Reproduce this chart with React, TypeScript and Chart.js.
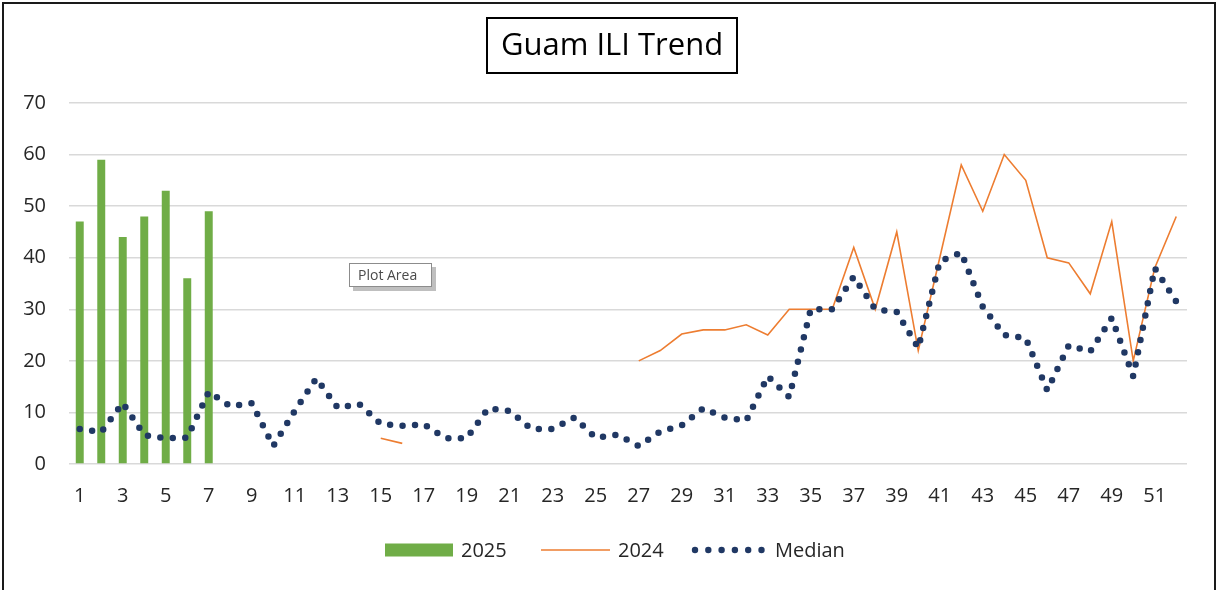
import React, { useEffect, useRef } from "react";
import { Chart, registerables } from "chart.js";

Chart.register(...registerables);

const weeks: string[] = [
  "1", "2", "3", "4", "5", "6", "7", "8", "9", "10", "11", "12", "13",
  "14", "15", "16", "17", "18", "19", "20", "21", "22", "23", "24", "25", "26",
  "27", "28", "29", "30", "31", "32", "33", "34", "35", "36", "37", "38", "39",
  "40", "41", "42", "43", "44", "45", "46", "47", "48", "49", "50", "51", "52",
];

const cases2025: (number | null)[] = [47, 59, 44, 48, 53, 36, 49];

const cases2024: (number | null)[] = [
  null, null, null, null, null, null, null, null, null, null, null, null, null,
  null, 5, 4, null, null, null, null, null, null, null, null, null, null,
  20, 22, 25.2, 26, 26, 27, 25, 30, 30, 30, 42, 30, 45,
  22, 40, 58, 49, 60, 55, 40, 39, 33, 47, 20, 38, 48,
];

const median: number[] = [
  6.8, 6.2, 11.8, 5.6, 5.0, 5.1, 14, 11.2, 11.8, 3.5, 10.3, 16.6, 10.9,
  11.6, 7.8, 7.4, 7.7, 5.0, 5.0, 10.8, 10.3, 6.8, 6.8, 9.0, 5.1, 5.7,
  3.5, 6.3, 7.5, 10.8, 9.0, 8.4, 17, 13, 30, 30, 36.3, 30, 29.5,
  22.5, 39.3, 41, 30.5, 25, 24.4, 14.3, 23, 21.8, 28.3, 17, 38, 31.5,
];

const yTicks: number[] = [0, 10, 20, 30, 40, 50, 60, 70];

const chartTitle = "Guam ILI Trend";
const legendLabels = ["2025", "2024", "Median"];
const hoverNote = "Plot Area";

const GREEN = "#70AD47";
const ORANGE = "#ED7D31";
const NAVY = "#203864";
const FONT = "'Open Sans', 'DejaVu Sans', sans-serif";

const decorPlugin = {
  id: "decor",
  beforeDraw(chart: any) {
    const ctx = chart.ctx;
    ctx.save();
    ctx.fillStyle = "#ffffff";
    ctx.fillRect(0, 0, chart.width, chart.height);
    ctx.restore();
  },
  afterDraw(chart: any) {
    const ctx = chart.ctx;
    ctx.save();
    // outer border
    ctx.strokeStyle = "#1a1a1a";
    ctx.lineWidth = 2;
    ctx.beginPath();
    ctx.moveTo(3, 700);
    ctx.lineTo(3, 3);
    ctx.lineTo(1215, 3);
    ctx.lineTo(1215, 700);
    ctx.stroke();

    // title box
    ctx.lineWidth = 2;
    ctx.strokeStyle = "#000";
    ctx.strokeRect(487, 18, 250, 55);
    ctx.fillStyle = "#000";
    ctx.font = `31px ${FONT}`;
    ctx.textAlign = "center";
    ctx.textBaseline = "middle";
    ctx.fillText(chartTitle, 612, 46);

    // legend
    const ly = 550;
    ctx.fillStyle = GREEN;
    ctx.fillRect(385, ly - 6.5, 68, 13);
    ctx.strokeStyle = ORANGE;
    ctx.lineWidth = 1.5;
    ctx.beginPath();
    ctx.moveTo(541, ly);
    ctx.lineTo(610, ly);
    ctx.stroke();
    ctx.fillStyle = NAVY;
    for (let i = 0; i < 6; i++) {
      ctx.beginPath();
      ctx.arc(695 + i * 13.3, ly, 3.2, 0, Math.PI * 2);
      ctx.fill();
    }
    ctx.fillStyle = "#262626";
    ctx.font = `20px ${FONT}`;
    ctx.textAlign = "left";
    ctx.textBaseline = "middle";
    ctx.fillText(legendLabels[0], 461, ly + 1);
    ctx.fillText(legendLabels[1], 618, ly + 1);
    ctx.fillText(legendLabels[2], 775, ly + 1);

    // "Plot Area" hover box
    ctx.fillStyle = "#bfbfbf";
    ctx.fillRect(353, 267, 83, 24);
    ctx.fillStyle = "#ffffff";
    ctx.fillRect(349, 263, 83, 24);
    ctx.strokeStyle = "#8c8c8c";
    ctx.lineWidth = 1;
    ctx.strokeRect(349.5, 263.5, 82, 23);
    ctx.fillStyle = "#4a4a4a";
    ctx.font = `14px ${FONT}`;
    ctx.textAlign = "left";
    ctx.fillText(hoverNote, 358, 276);
    ctx.restore();
  },
};

export default function App() {
  const ref = useRef<HTMLCanvasElement | null>(null);

  useEffect(() => {
    if (!ref.current) return;
    const chart = new Chart(ref.current, {
      type: "bar",
      data: {
        labels: weeks,
        datasets: [
          {
            type: "line",
            label: "Median",
            data: median,
            borderColor: NAVY,
            backgroundColor: NAVY,
            borderWidth: 6.5,
            borderDash: [0, 12.5],
            borderCapStyle: "round",
            borderJoinStyle: "round",
            pointRadius: 0,
            tension: 0,
            order: 1,
          } as any,
          {
            type: "line",
            label: "2024",
            data: cases2024,
            borderColor: ORANGE,
            backgroundColor: ORANGE,
            borderWidth: 1.6,
            pointRadius: 0,
            tension: 0,
            spanGaps: false,
            order: 2,
          } as any,
          {
            type: "bar",
            label: "2025",
            data: cases2025,
            backgroundColor: GREEN,
            borderWidth: 0,
            barPercentage: 0.37,
            categoryPercentage: 1,
            order: 3,
          } as any,
        ],
      },
      options: {
        responsive: false,
        devicePixelRatio: 1,
        animation: false,
        layout: { padding: { left: 0, top: 103, right: 33, bottom: 66 } },
        plugins: {
          legend: { display: false },
          title: { display: false },
          tooltip: { enabled: false },
        },
        scales: {
          x: {
            type: "category",
            offset: true,
            grid: { display: false, drawTicks: false },
            border: { display: false },
            ticks: {
              autoSkip: false,
              maxRotation: 0,
              minRotation: 0,
              padding: 20,
              color: "#262626",
              font: { family: FONT, size: 20 },
              callback: (_v: any, i: number) => (i % 2 === 0 ? weeks[i] : ""),
            },
            afterFit: (s: any) => {
              s.height = 60;
            },
          },
          y: {
            min: yTicks[0],
            max: yTicks[yTicks.length - 1],
            grid: { color: "#d9d9d9", lineWidth: 1.5, drawTicks: false },
            border: { display: false },
            afterBuildTicks: (s: any) => {
              s.ticks = yTicks.map((v) => ({ value: v }));
            },
            ticks: {
              padding: 23,
              color: "#262626",
              font: { family: FONT, size: 20 },
            },
            afterFit: (s: any) => {
              s.width = 69;
            },
          },
        },
      },
      plugins: [decorPlugin],
    });
    return () => chart.destroy();
  }, []);

  return (
    <div style={{ position: "absolute", left: 0, top: 0, width: 1220, height: 590 }}>
      <canvas ref={ref} width={1220} height={590} style={{ display: "block" }} />
    </div>
  );
}
